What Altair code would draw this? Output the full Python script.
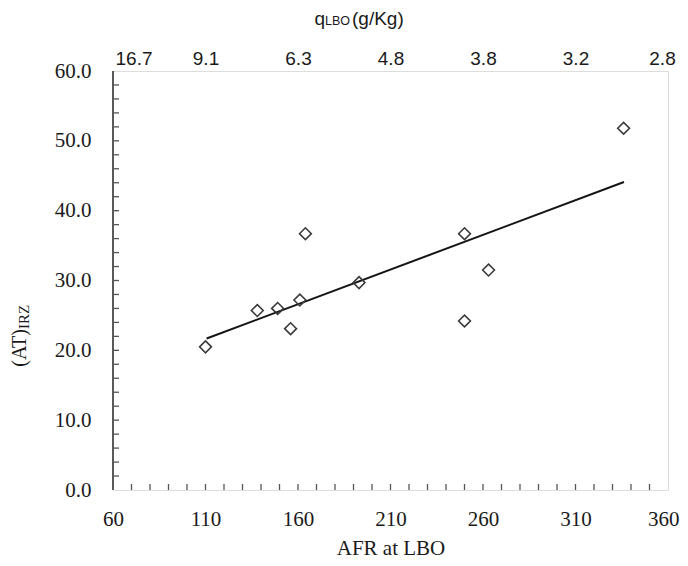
import altair as alt
import pandas as pd

# ---- data ----
afr = [110, 138, 149, 156, 161, 164, 193, 250, 250, 263, 336]
at_irz = [20.5, 25.7, 26.0, 23.1, 27.2, 36.7, 29.7, 36.7, 24.2, 31.5, 51.8]

trend_afr = [110.6, 336.2]
trend_at = [21.7, 44.1]

x_major = [60, 110, 160, 210, 260, 310, 360]
top_labels = ["16.7", "9.1", "6.3", "4.8", "3.8", "3.2", "2.8"]
y_major = [0, 10, 20, 30, 40, 50, 60]
x_minor = [70, 80, 90, 100, 110, 120, 130, 140, 150, 160, 170, 180, 190, 200, 210,
           220, 230, 240, 250, 260, 270, 280, 290, 300, 310, 320, 330, 340, 350]
y_minor = [2, 4, 6, 8, 10, 12, 14, 16, 18, 20, 22, 24, 26, 28, 30, 32, 34, 36, 38,
           40, 42, 44, 46, 48, 50, 52, 54, 56, 58]

W, H = 555, 419
SERIF = "Liberation Serif"
SANS = "Liberation Sans"

pts = pd.DataFrame({"afr": afr, "at": at_irz})
trend = pd.DataFrame({"afr": trend_afr, "at": trend_at})
xt = pd.DataFrame({"v": x_minor})
yt = pd.DataFrame({"v": y_minor})

xscale = alt.Scale(domain=[60, 360], nice=False, zero=False)
yscale = alt.Scale(domain=[0, 60], nice=False, zero=False)

points = alt.Chart(pts).mark_point(
    shape="diamond", filled=False, size=140, stroke="#3a3a3a", strokeWidth=1.6, opacity=1
).encode(
    x=alt.X("afr:Q", scale=xscale, axis=alt.Axis(
        orient="bottom", values=x_major, title="AFR at LBO", grid=False, domain=False,
        ticks=False, labelFont=SERIF, labelFontSize=21, labelColor="#1a1a1a",
        labelPadding=18, titleFont=SERIF, titleFontSize=21, titleFontWeight="normal",
        titleColor="#1a1a1a", titlePadding=8, labelFlush=False,
        labelAlign={"expr": "datum.value == 360 ? 'right' : 'center'"},
        labelOffset={"expr": "datum.value == 360 ? 11 : 0"})),
    y=alt.Y("at:Q", scale=yscale, axis=alt.Axis(
        orient="left", values=y_major, format=".1f", title=None, grid=False,
        domain=False, ticks=False, labelFont=SERIF, labelFontSize=21,
        labelColor="#1a1a1a", labelPadding=22, labelFlush=False)),
)

line = alt.Chart(trend).mark_line(color="#151515", strokeWidth=2).encode(
    x=alt.X("afr:Q", scale=xscale, axis=None),
    y=alt.Y("at:Q", scale=yscale, axis=None),
)

label_expr = "[" + ",".join("'%s'" % s for s in top_labels) + "][indexof([" + \
    ",".join(str(v) for v in x_major) + "], datum.value)]"

top_axis = alt.Chart(trend).mark_point(opacity=0).encode(
    x=alt.X("afr:Q", scale=xscale, axis=alt.Axis(
        orient="top", values=x_major, labelExpr=label_expr, title=None, grid=False,
        domain=False, ticks=False, labelFont=SANS, labelFontSize=19,
        labelColor="#1a1a1a", labelPadding=3, labelFlush=False,
        labelAlign={"expr": "datum.value == 60 ? 'left' : 'center'"},
        labelOffset={"expr": "datum.value == 60 ? 2 : (datum.value == 360 ? -6 : 0)"})),
    y=alt.Y("at:Q", scale=yscale, axis=None),
)

xticks = alt.Chart(xt).mark_rule(color="#555555", strokeWidth=1.3).encode(
    x=alt.X("v:Q", scale=xscale, axis=None),
    y=alt.value(H),
    y2=alt.value(H - 6),
)
yticks = alt.Chart(yt).mark_rule(color="#555555", strokeWidth=1.3).encode(
    y=alt.Y("v:Q", scale=yscale, axis=None),
    x=alt.value(0),
    x2=alt.value(6),
)

one = alt.Data(values=[{}])

left_edge = alt.Chart(one).mark_rule(color="#5a5a5a", strokeWidth=2).encode(
    x=alt.value(0), y=alt.value(0), y2=alt.value(H)
)


def txt(s, x, y, size, font, align="left", angle=0, baseline="alphabetic"):
    return alt.Chart(one).mark_text(
        text=s, font=font, fontSize=size, align=align, baseline=baseline,
        angle=angle, color="#1a1a1a"
    ).encode(x=alt.value(x), y=alt.value(y))


# top title  q_LBO(g/Kg)
t1 = txt("q", 212, -46, 19, SANS, align="right")
t2 = txt("LBO", 212, -46, 12.5, SANS, align="left")
t3 = txt("(g/Kg)", 239, -46, 19, SANS, align="left")
# y title (AT)_IRZ rotated
y1 = txt("(AT)", -87, 258, 20, SERIF, align="right", angle=270)
y2 = txt("IRZ", -84, 258, 15, SERIF, align="left", angle=270)

chart = alt.layer(
    xticks, yticks, left_edge, line, points, top_axis, t1, t2, t3, y1, y2
).resolve_axis(x="independent", y="independent").properties(
    width=W, height=H,
    autosize=alt.AutoSizeParams(type="none"),
    padding={"left": 105, "top": 63, "right": 12, "bottom": 68},
).configure_view(
    stroke="#5a5a5a", strokeWidth=2
).configure(background="white")

chart.save("out.html", embed_options={"renderer": "svg", "actions": False})
